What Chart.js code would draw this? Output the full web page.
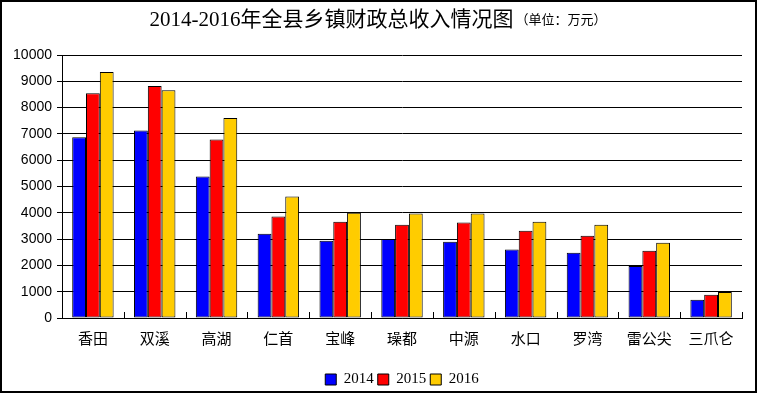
<!DOCTYPE html>
<html>
<head>
<meta charset="utf-8">
<script src="https://cdn.jsdelivr.net/npm/chart.js@4/dist/chart.umd.min.js"></script>
<style>
body { margin: 0; background: #fff; }
#graphique { display: block; }
</style>
</head>
<body>
<canvas id="graphique" width="758" height="394"></canvas>
<script>
var titre = "2014-2016年全县乡镇财政总收入情况图";
var sousTitre = "（单位：万元）";
var villes = ["香田", "双溪", "高湖", "仁首", "宝峰", "璪都", "中源", "水口", "罗湾", "雷公尖", "三爪仑"];
var annees = ["2014", "2015", "2016"];
var valeurs2014 = [6870, 7130, 5380, 3200, 2940, 3000, 2900, 2600, 2480, 1980, 690];
var valeurs2015 = [8550, 8820, 6790, 3860, 3660, 3550, 3630, 3320, 3130, 2560, 880];
var valeurs2016 = [9350, 8660, 7600, 4620, 4000, 3970, 3970, 3660, 3550, 2860, 990];
var couleurs = ["#0000FF", "#FF0000", "#FFCC00"];

var policeSerif = '"Liberation Serif", "Noto Sans CJK SC", serif';

// titre en deux tailles + cadre autour de tout le graphique
var pluginDecor = {
    id: "decor",
    afterDraw: function(chart) {
        var ctx = chart.ctx;
        ctx.save();
        ctx.fillStyle = "#000";
        ctx.textBaseline = "middle";
        ctx.font = "21px " + policeSerif;
        var l1 = ctx.measureText(titre).width;
        ctx.font = "13px " + policeSerif;
        var l2 = ctx.measureText(sousTitre).width;
        var x = 377 - (l1 + l2) / 2;
        ctx.font = "21px " + policeSerif;
        ctx.fillText(titre, x, 20);
        ctx.font = "13px " + policeSerif;
        ctx.fillText(sousTitre, x + l1 + 2, 21);

        // petites graduations vers le haut sur l'axe des x
        var sx = chart.scales.x;
        var bas = chart.chartArea.bottom;
        var pas = (sx.right - sx.left) / villes.length;
        ctx.strokeStyle = "#000";
        ctx.lineWidth = 1;
        ctx.beginPath();
        for (var i = 1; i <= villes.length; i++) {
            var xt = Math.round(sx.left + i * pas) + 0.5;
            ctx.moveTo(xt, bas - 6);
            ctx.lineTo(xt, bas);
        }
        ctx.stroke();

        ctx.lineWidth = 2;
        ctx.strokeRect(1, 1, 755, 391);
        ctx.restore();
    }
};

var ctx = document.getElementById("graphique").getContext("2d");
var chart = new Chart(ctx, {
    type: "bar",
    data: {
        labels: villes,
        datasets: [{
            label: annees[0],
            data: valeurs2014,
            backgroundColor: couleurs[0]
        }, {
            label: annees[1],
            data: valeurs2015,
            backgroundColor: couleurs[1]
        }, {
            label: annees[2],
            data: valeurs2016,
            backgroundColor: couleurs[2]
        }]
    },
    options: {
        responsive: false,
        animation: false,
        layout: { padding: { top: 55, left: 0, right: 16, bottom: -3 } },
        datasets: {
            bar: {
                borderColor: "#000",
                borderWidth: 1,
                borderSkipped: false,
                barPercentage: 1,
                categoryPercentage: 0.67
            }
        },
        plugins: {
            title: { display: false },
            tooltip: { enabled: false },
            legend: {
                position: "bottom",
                fullSize: false,
                labels: {
                    boxWidth: 11,
                    boxHeight: 11,
                    padding: 4,
                    color: "#000",
                    font: { family: policeSerif, size: 15 },
                    generateLabels: function(chart) {
                        return chart.data.datasets.map(function(d, i) {
                            return {
                                text: d.label,
                                fillStyle: d.backgroundColor,
                                strokeStyle: "#000",
                                lineWidth: 1,
                                datasetIndex: i
                            };
                        });
                    }
                }
            }
        },
        scales: {
            x: {
                grid: { display: false },
                border: { color: "#000", width: 1 },
                ticks: {
                    color: "#000",
                    padding: 3,
                    maxRotation: 0,
                    autoSkip: false,
                    font: { family: '"Noto Sans CJK SC", sans-serif', size: 15 }
                },
                afterFit: function(scale) { scale.height = 50; }
            },
            y: {
                min: 0,
                max: 10000,
                grid: { color: "#000", lineWidth: 1, tickLength: 5 },
                border: { color: "#000", width: 1 },
                ticks: {
                    stepSize: 1000,
                    color: "#000",
                    padding: 5,
                    font: { family: '"Liberation Sans", Arial, sans-serif', size: 14 },
                    callback: function(v) { return String(v); }
                },
                afterFit: function(scale) { scale.width = 62; }
            }
        }
    },
    plugins: [pluginDecor]
});
</script>
</body>
</html>
